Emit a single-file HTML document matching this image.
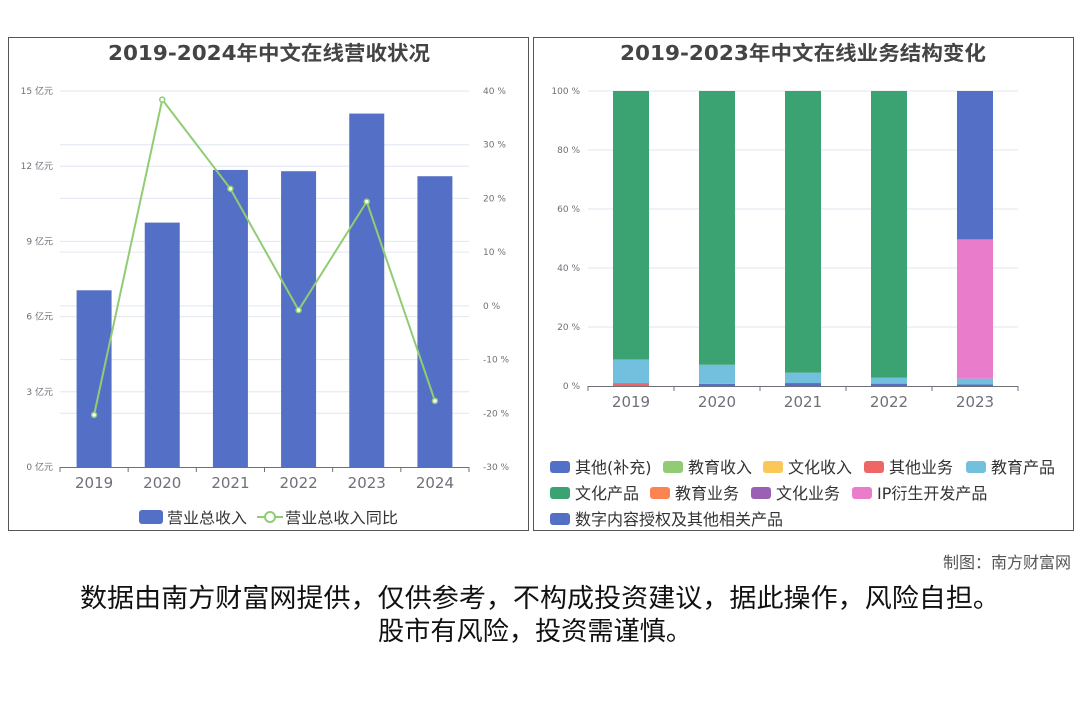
<!DOCTYPE html>
<html><head><meta charset="utf-8"><style>
html,body{margin:0;padding:0;background:#fff;width:1080px;height:720px;overflow:hidden;font-family:"DejaVu Sans","Noto Sans CJK SC",sans-serif}
svg{position:absolute;left:0;top:0}
</style></head><body>
<svg id="s" width="1080" height="720" xmlns="http://www.w3.org/2000/svg" font-family="DejaVu Sans, Noto Sans CJK SC, sans-serif"></svg>
<script>
const years1=["2019","2020","2021","2022","2023","2024"];
const revenue=[7.05,9.75,11.85,11.8,14.1,11.6];
const growth=[-20.3,38.4,21.8,-0.8,19.4,-17.7];
const leftTicks=[0,3,6,9,12,15];
const rightTicks=[-30,-20,-10,0,10,20,30,40];
const years2=["2019","2020","2021","2022","2023"];
const seriesNames=["其他(补充)","教育收入","文化收入","其他业务","教育产品","文化产品","教育业务","文化业务","IP衍生开发产品","数字内容授权及其他相关产品"];
const seriesColors=["#5470c6","#91cc75","#fac858","#ee6666","#73c0de","#3ba272","#fc8452","#9a60b4","#ea7ccc","#5470c6"];
const sOther=[0,0.7,1,0.8,0.5];
const sEduIncome=[0,0,0,0,0];
const sCulIncome=[0,0,0,0,0];
const sOtherBiz=[1,0,0,0,0];
const sEduProd=[8,6.5,3.5,2,2];
const sCulProd=[91,92.8,95.5,97.2,0];
const sEduBiz=[0,0,0,0,0];
const sCulBiz=[0,0,0,0,0];
const sIP=[0,0,0,0,47.2];
const sDigital=[0,0,0,0,50.3];
const stackSeries=[sOther,sEduIncome,sCulIncome,sOtherBiz,sEduProd,sCulProd,sEduBiz,sCulBiz,sIP,sDigital];
const pctTicks=[0,20,40,60,80,100];

const S=document.getElementById('s');const NS="http://www.w3.org/2000/svg";
function mk(t,a,txt){const e=document.createElementNS(NS,t);for(const k in a)e.setAttribute(k,a[k]);if(txt!=null)e.textContent=txt;S.appendChild(e);return e;}

let f=mk('rect',{x:8.5,y:37.5,width:520,height:493,fill:'none',stroke:'#555','stroke-width':1});

f=mk('rect',{x:533.5,y:37.5,width:540,height:493,fill:'none',stroke:'#555','stroke-width':1});

let t=mk('text',{x:108,y:60,'font-size':20,'font-weight':'bold',fill:'#444',textLength:322,lengthAdjust:'spacingAndGlyphs'},'2019-2024年中文在线营收状况');

t=mk('text',{x:620,y:60,'font-size':20,'font-weight':'bold',fill:'#444',textLength:366,lengthAdjust:'spacingAndGlyphs'},'2019-2023年中文在线业务结构变化');


const L={x0:60,x1:469,yt:91,yb:467};
const yL=v=>L.yb-(v/15)*(L.yb-L.yt);
const yR=v=>L.yb-((v+30)/70)*(L.yb-L.yt);
const cw=(L.x1-L.x0)/years1.length;
const xc=i=>L.x0+cw*(i+0.5);
leftTicks.forEach(v=>{const y=yL(v);
 if(v>0){const g=mk('line',{x1:L.x0,x2:L.x1,y1:y,y2:y,stroke:'#e0e6f1'});}
 const e=mk('text',{x:53,y:y+3,'text-anchor':'end','font-size':9,fill:'#6e7079'},v+' 亿元');});
rightTicks.forEach(v=>{const y=yR(v);
 if(v>-30){const g=mk('line',{x1:L.x0,x2:L.x1,y1:y,y2:y,stroke:'#e0e6f1'});}
 const e=mk('text',{x:483,y:y+3,'font-size':9,fill:'#6e7079'},v+' %');});
revenue.forEach((v,i)=>{const b=mk('rect',{x:xc(i)-17.5,y:yL(v),width:35,height:L.yb-yL(v),fill:'#5470c6'});
 });
let ax=mk('line',{x1:L.x0,x2:L.x1,y1:L.yb+.5,y2:L.yb+.5,stroke:'#6e7079'});
years1.forEach((yv,i)=>{mk('line',{x1:L.x0+cw*i,x2:L.x0+cw*i,y1:L.yb,y2:L.yb+5,stroke:'#6e7079'});
 const e=mk('text',{x:xc(i),y:L.yb+21,'text-anchor':'middle','font-size':15,fill:'#6e7079'},yv);});
mk('line',{x1:L.x1,x2:L.x1,y1:L.yb,y2:L.yb+5,stroke:'#6e7079'});
let ln=mk('polyline',{points:growth.map((v,i)=>xc(i)+','+yR(v)).join(' '),fill:'none',stroke:'#91cc75','stroke-width':2});

growth.forEach((v,i)=>{const c=mk('circle',{cx:xc(i),cy:yR(v),r:2.5,fill:'#fff',stroke:'#91cc75','stroke-width':1.5});});
let lg=mk('rect',{x:139,y:510,width:24,height:14,rx:3,fill:'#5470c6'});
t=mk('text',{x:167,y:523,'font-size':15,fill:'#333',textLength:80,lengthAdjust:'spacingAndGlyphs'},'营业总收入');
mk('line',{x1:257,x2:283,y1:517,y2:517,stroke:'#91cc75','stroke-width':2});
lg=mk('circle',{cx:270,cy:517,r:5,fill:'#fff',stroke:'#91cc75','stroke-width':2});
t=mk('text',{x:285,y:523,'font-size':15,fill:'#333',textLength:113,lengthAdjust:'spacingAndGlyphs'},'营业总收入同比');

const R={x0:588,x1:1018,yt:91,yb:386};
const yP=v=>R.yb-(v/100)*(R.yb-R.yt);
const cw2=(R.x1-R.x0)/years2.length;
const xc2=i=>R.x0+cw2*(i+0.5);
pctTicks.forEach(v=>{const y=yP(v);
 if(v>0){const g=mk('line',{x1:R.x0,x2:R.x1,y1:y,y2:y,stroke:'#e0e6f1'});}
 const e=mk('text',{x:580,y:y+3,'text-anchor':'end','font-size':9,fill:'#6e7079'},v+' %');});
years2.forEach((yv,i)=>{let acc=0;
 stackSeries.forEach((s,k)=>{const v=s[i];if(v<=0)return;
  const b=mk('rect',{x:xc2(i)-18,y:yP(acc+v),width:36,height:yP(acc)-yP(acc+v),fill:seriesColors[k]});
  acc+=v;});});
ax=mk('line',{x1:R.x0,x2:R.x1,y1:R.yb+.5,y2:R.yb+.5,stroke:'#6e7079'});
years2.forEach((yv,i)=>{mk('line',{x1:R.x0+cw2*i,x2:R.x0+cw2*i,y1:R.yb,y2:R.yb+5,stroke:'#6e7079'});
 const e=mk('text',{x:xc2(i),y:R.yb+21,'text-anchor':'middle','font-size':15,fill:'#6e7079'},yv);});
mk('line',{x1:R.x1,x2:R.x1,y1:R.yb,y2:R.yb+5,stroke:'#6e7079'});
const legPos=[[550,467],[663,467],[763,467],[864,467],[966,467],[550,493],[650,493],[751,493],[852,493],[550,519]];
seriesNames.forEach((n,k)=>{const [x,y]=legPos[k];
 const r=mk('rect',{x:x,y:y-6,width:20,height:12,rx:3,fill:seriesColors[k]});
 const e=mk('text',{x:x+25,y:y+6,'font-size':16,fill:'#333'},n);});

t=mk('text',{x:1071,y:568,'text-anchor':'end','font-size':16,fill:'#555'},'制图：南方财富网');
t=mk('text',{x:80,y:607,'font-size':26,fill:'#111',textLength:920,lengthAdjust:'spacingAndGlyphs'},'数据由南方财富网提供，仅供参考，不构成投资建议，据此操作，风险自担。');
t=mk('text',{x:378,y:640,'font-size':26,fill:'#111',textLength:314,lengthAdjust:'spacingAndGlyphs'},'股市有风险，投资需谨慎。');
</script>
</body></html>
